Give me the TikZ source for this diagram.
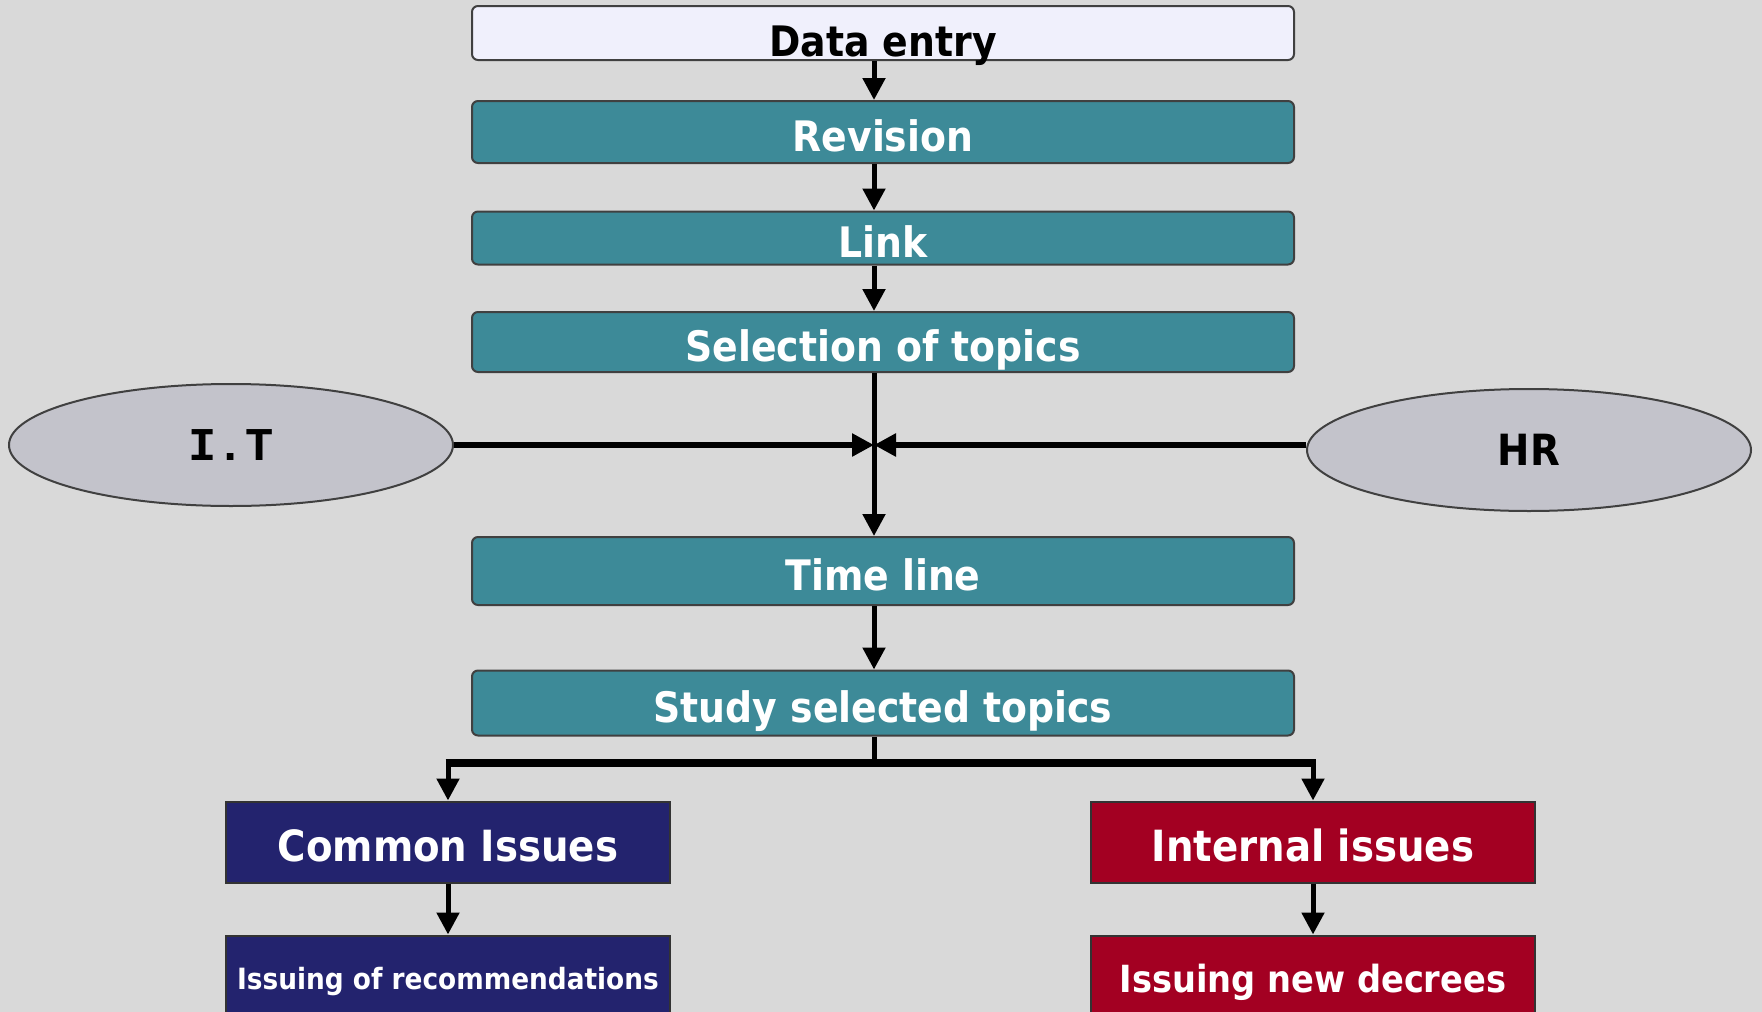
\documentclass[tikz,border=0pt]{standalone}
\usepackage{fontspec}
\setmainfont{DejaVu Sans Condensed}
\newfontfamily\itfont{Liberation Mono}
\usetikzlibrary{arrows.meta,shapes.geometric}
\definecolor{bggray}{HTML}{D9D9D9}
\definecolor{tealbox}{HTML}{3D8A98}
\definecolor{entrybox}{HTML}{F0F0FC}
\definecolor{navybox}{HTML}{23236E}
\definecolor{redbox}{HTML}{A30022}
\definecolor{ovalgray}{HTML}{C3C3CB}
\begin{document}
\begin{tikzpicture}[x=1pt, y=-1pt,
  stepbox/.style = {draw=black!75, line width=2pt, rounded corners=6pt, minimum width=822pt, fill=tealbox, text=white, text height=38pt, text depth=0pt, font=\fontsize{42}{48}\selectfont\bfseries},
  issuebox/.style = {draw=black!80, line width=2pt, minimum width=444pt, minimum height=81pt, text=white, text height=38.7pt, text depth=0pt, font=\fontsize{43}{48}\selectfont\bfseries},
  oval/.style = {ellipse, draw=black!75, line width=2pt, fill=ovalgray, minimum width=444pt, minimum height=122pt, font=\fontsize{43}{48}\selectfont\bfseries},
  arr/.style = {line width=5pt, -{Triangle[length=22pt,width=22pt]}}]
\fill[bggray] (0,0) rectangle (1762,1012);
\useasboundingbox (0,0) rectangle (1762,1012);
\coordinate (spine) at (874,0);
\node[stepbox, fill=entrybox, text=black, minimum height=54pt, text height=46pt] (entry) at (883,33) {Data entry};
\node[stepbox, minimum height=62pt] (rev) at (883,132) {Revision};
\node[stepbox, minimum height=53pt] (link) at (883,238) {Link};
\node[stepbox, minimum height=60pt] (sel) at (883,342) {Selection of topics};
\node[stepbox, minimum height=68pt] (time) at (883,571) {Time line};
\node[stepbox, minimum height=65pt] (study) at (883,703) {Study selected topics};
\node[oval] (it) at (231,445) {\itfont\fontsize{47}{52}\selectfont I.T};
\node[oval] (hr) at (1529,450) {HR};
\node[issuebox, fill=navybox] (common) at (448,842) {Common Issues};
\node[issuebox, fill=redbox] (internal) at (1313,842) {Internal issues};
\node[issuebox, fill=navybox, text height=26.4pt, font=\fontsize{29.3}{34}\selectfont\bfseries] (recom) at (448,976) {Issuing of recommendations};
\node[issuebox, fill=redbox, text height=33.7pt, font=\fontsize{37.4}{42}\selectfont\bfseries] (decree) at (1313,976) {Issuing new decrees};
\coordinate (fork) at (874,763);
\draw[arr] (entry.south -| spine) -- (rev.north -| spine);
\draw[arr] (rev.south -| spine) -- (link.north -| spine);
\draw[arr] (link.south -| spine) -- (sel.north -| spine);
\draw[arr] (sel.south -| spine) -- (time.north -| spine);
\draw[arr, line width=6pt] (it.east) -- (it.east -| spine);
\draw[arr, line width=6pt] (hr.west |- it.east) -- (it.east -| spine);
\draw[arr] (time.south -| spine) -- (study.north -| spine);
\draw[line width=5pt] (study.south -| spine) -- (fork);
\draw[line width=8pt] ([xshift=-2.5pt]common.north |- fork) -- ([xshift=2.5pt]internal.north |- fork);
\draw[arr] (common.north |- fork) -- (common.north);
\draw[arr] (internal.north |- fork) -- (internal.north);
\draw[arr] (common.south) -- (recom.north);
\draw[arr] (internal.south) -- (decree.north);
\end{tikzpicture}
\end{document}
